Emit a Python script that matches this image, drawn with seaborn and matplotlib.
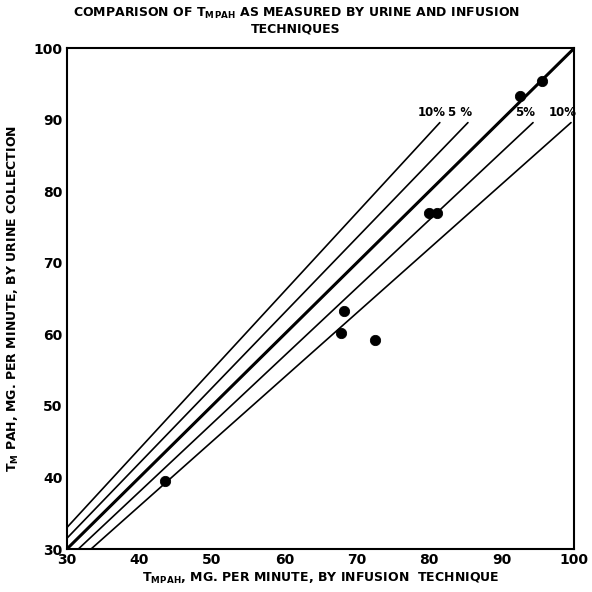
import numpy as np
import pandas as pd
import seaborn as sns
import matplotlib
matplotlib.use("Agg")
import matplotlib.pyplot as plt

# measured Tm PAH values (mg per minute)
infusion = [43.5, 67.8, 68.2, 72.5, 80.0, 81.0, 92.5, 95.5]
urine = [39.5, 60.2, 63.2, 59.2, 77.0, 77.0, 93.3, 95.4]

# deviation lines (percent from identity)
pct_values = [10, 5, 0, -5, -10]
pct_labels = ["10%", "5 %", "", "5%", "10%"]
axis_min, axis_max = 30, 100
band_top = 89.6

sns.set_style("white")
plt.rcParams["font.family"] = ["DejaVu Sans"]
plt.rcParams["font.weight"] = "bold"
for key in ["text.color", "axes.labelcolor", "xtick.color", "ytick.color"]:
    plt.rcParams[key] = "black"

fig = plt.figure(figsize=(5.92, 5.92), dpi=100)
ax = fig.add_axes([0.113, 0.0726, 0.857, 0.846])

# build line segments for each deviation line
rows = []
for p in pct_values:
    k = 1 + p / 100
    if p == 0:
        x0, x1 = axis_min, axis_max
    elif p > 0:
        x0, x1 = axis_min, band_top / k
    else:
        x0, x1 = axis_min / k, band_top / k
    for x in (x0, x1):
        rows.append({"pct": p, "x": x, "y": k * x})
lines_df = pd.DataFrame(rows)

for p in pct_values:
    seg = lines_df[lines_df["pct"] == p]
    sns.lineplot(data=seg, x="x", y="y", ax=ax, color="black",
                 linewidth=2.2 if p == 0 else 1.2, sort=False)

for p, lab in zip(pct_values, pct_labels):
    if not lab:
        continue
    k = 1 + p / 100
    ax.text(band_top / k - 1.1, band_top + 0.5, lab, ha="center", va="bottom",
            fontsize=8.5, fontweight="bold")

pts = pd.DataFrame({"infusion": infusion, "urine": urine})
sns.scatterplot(data=pts, x="infusion", y="urine", ax=ax, color="black",
                s=55, edgecolor="black", zorder=5)

ax.set_xlim(axis_min, axis_max)
ax.set_ylim(axis_min, axis_max)
ax.set_xticks(range(30, 101, 10))
ax.set_yticks(range(30, 101, 10))
ax.tick_params(length=0, labelsize=10, pad=3)
for lbl in ax.get_xticklabels() + ax.get_yticklabels():
    lbl.set_fontweight("bold")
for s in ax.spines.values():
    s.set_color("black")
    s.set_linewidth(1.5)

ax.set_xlabel(r"T$\mathregular{_M}$$\mathregular{_{PAH}}$, MG. PER MINUTE, BY INFUSION  TECHNIQUE",
              fontsize=9, fontweight="bold", labelpad=3)
ax.set_ylabel(r"T$\mathregular{_M}$ PAH, MG. PER MINUTE, BY URINE COLLECTION",
              fontsize=9, fontweight="bold", labelpad=9)
fig.suptitle(r"COMPARISON OF T$\mathregular{_M}$$\mathregular{_{PAH}}$ AS MEASURED BY URINE AND INFUSION" + "\nTECHNIQUES",
             fontsize=9, fontweight="bold", y=0.99, linespacing=1.1)

fig.savefig("out.png", dpi=100, facecolor="white")
